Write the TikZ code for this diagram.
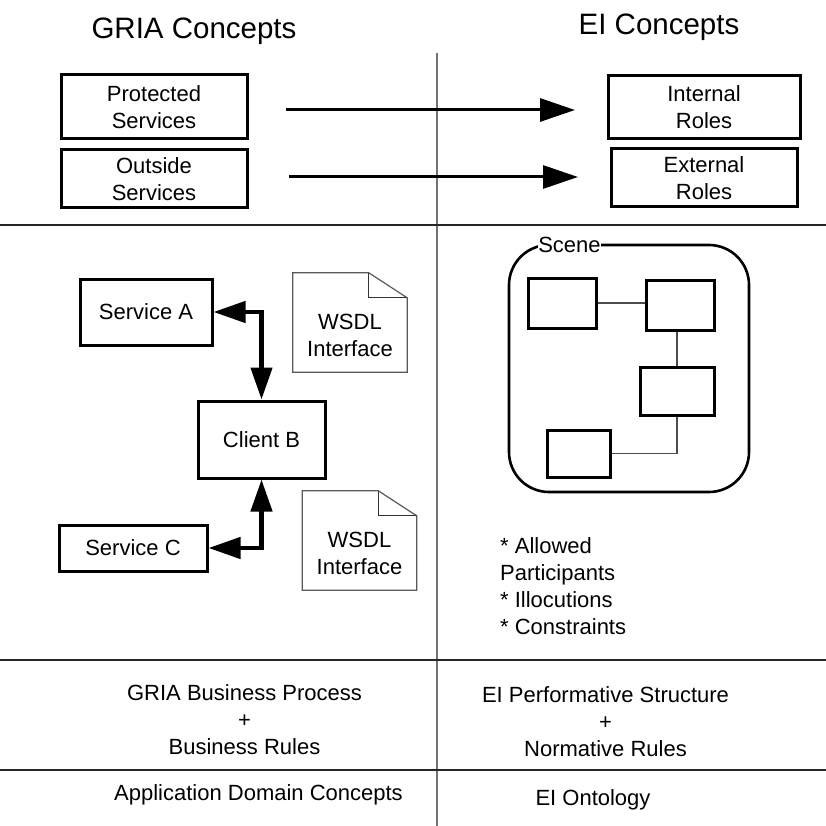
\documentclass[tikz,border=0pt]{standalone}
\usepackage{fontspec}
\setmainfont{Liberation Sans}
\usetikzlibrary{arrows.meta}
\tikzset{
  label22/.style={inner sep=0pt,align=center,font=\fontsize{22}{27}\selectfont},
  title30/.style={inner sep=0pt,font=\fontsize{29.5}{35}\selectfont},
  conceptbox/.style={draw,line width=3pt,label22,fill=white},
  smallbox/.style={draw,line width=3pt,fill=white},
  notebox/.style={label22,minimum width=114pt,minimum height=74pt},
  flow/.style={line width=3pt,-{Triangle[length=35pt,width=23pt]}},
  link/.style={line width=4.5pt,{Triangle[length=32pt,width=21pt]}-{Triangle[length=32pt,width=21pt]}},
  thinlink/.style={line width=1.2pt,black!70},
  divider/.style={line width=2.6pt,black!85}
}
\begin{document}
\begin{tikzpicture}[x=1pt,y=-1pt]
  \useasboundingbox (0,0) rectangle (826,826);
  \draw[line width=1.2pt,black!55] (437,53) -- (437,826);
  \foreach \Y in {225,660,770} {%
    \draw[divider] (0,\Y) -- (826,\Y);
  }
  \node[title30] (griatitle) at (194,31) {GRIA Concepts};
  \node[title30] (eititle) at (659,27) {EI Concepts};
  % top row
  \node[conceptbox,minimum width=186pt,minimum height=64pt] (protected) at (154,107) {Protected\\Services};
  \node[conceptbox,minimum width=186pt,minimum height=58pt] (outside) at (154,179) {Outside\\Services};
  \node[conceptbox,minimum width=192pt,minimum height=63pt] (internal) at (704,107.5) {Internal\\Roles};
  \node[conceptbox,minimum width=186pt,minimum height=58pt] (external) at (704,178) {External\\Roles};
  \coordinate (flowastart) at (286,110);
  \coordinate (flowaend) at (575,110);
  \coordinate (flowbstart) at (289,177);
  \coordinate (flowbend) at (578,177);
  \draw[flow] (flowastart) -- (flowaend);
  \draw[flow] (flowbstart) -- (flowbend);
  % services
  \node[conceptbox,minimum width=132pt,minimum height=66pt] (servicea) at (146,312) {Service A};
  \node[conceptbox,minimum width=127pt,minimum height=77pt] (clientb) at (261.5,439.5) {Client B};
  \node[conceptbox,minimum width=148pt,minimum height=46pt] (servicec) at (133,548) {Service C};
  \draw[link] (servicea) -| (clientb);
  \draw[link] (servicec) -| (clientb);
  \node[notebox] (wsdla) at (350,335) {WSDL\\Interface};
  \node[notebox] (wsdlb) at (359.5,553) {WSDL\\Interface};
  \foreach \N in {wsdla,wsdlb} {%
    \draw[line width=1.2pt,black!65] (\N.south west) -- (\N.north west) -- ++(0,-25) -- ++(76,0) -- (\N.north east)
      -- (\N.south east) -- cycle;
    \draw[line width=1.2pt,black!80] (\N.north west) ++(76,-25) -- ++(0,25) -- (\N.north east);
  }
  % scene
  \node[draw,line width=2.6pt,rounded corners=40pt,minimum width=240pt,minimum height=247pt] (scene) at (629,368.5) {};
  \node[label22,fill=white,inner xsep=0pt] (scenelabel) at (569.5,245) {Scene};
  \node[smallbox,minimum width=68pt,minimum height=50pt] (boxa) at (562,303) {};
  \node[smallbox,minimum width=68pt,minimum height=50pt] (boxb) at (680,305) {};
  \node[smallbox,minimum width=74pt,minimum height=48pt] (boxc) at (677,391) {};
  \node[smallbox,minimum width=63pt,minimum height=47pt] (boxd) at (578.5,453.5) {};
  \draw[thinlink] (boxa.east) -- (boxa.east -| boxb.west);
  \draw[thinlink] (boxc.north) -- (boxc.north |- boxb.south);
  \draw[thinlink] (boxc.south) |- (boxd.east);
  \node[label22,align=left,anchor=north west] (scenenotes) at (500,537.5) {* Allowed\\Participants\\* Illocutions\\* Constraints};
  % bottom rows
  \node[label22] (griaprocess) at (244.5,719.5) {GRIA Business Process\\+\\Business Rules};
  \node[label22] (eiprocess) at (605.5,722) {EI Performative Structure\\+\\Normative Rules};
  \node[label22] (appdomain) at (258.5,795) {Application Domain Concepts};
  \node[label22] (eionto) at (593,800) {EI Ontology};
\end{tikzpicture}
\end{document}
